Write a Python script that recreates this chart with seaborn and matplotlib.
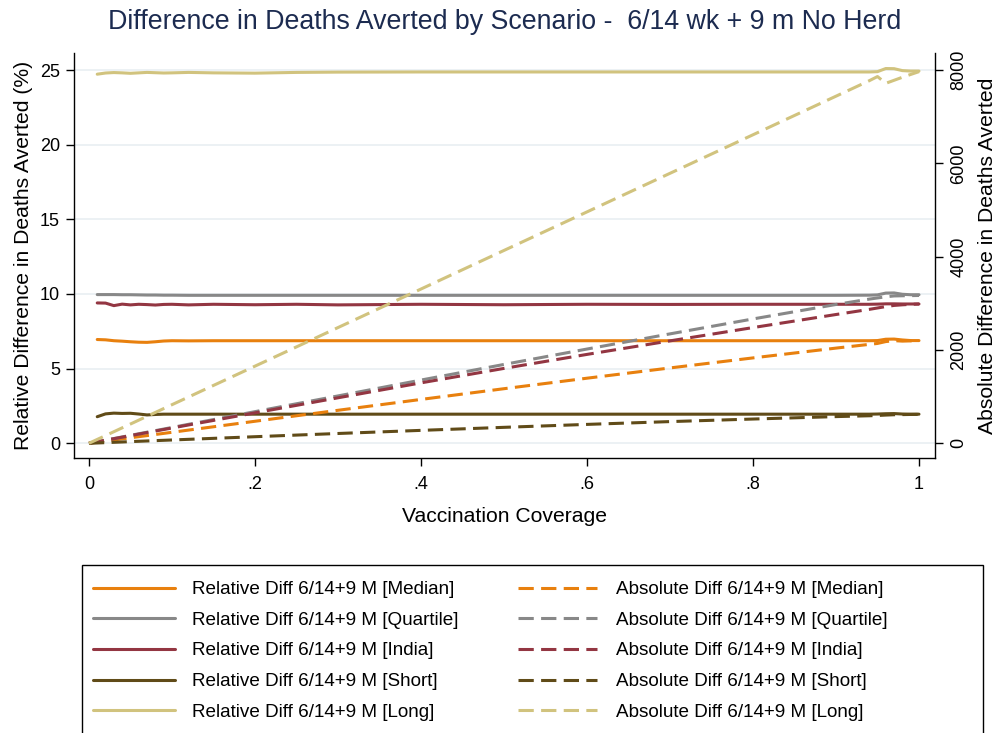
import numpy as np
import pandas as pd
import matplotlib
matplotlib.use("Agg")
import matplotlib.pyplot as plt
from matplotlib.patches import Rectangle
import seaborn as sns

nan = np.nan

# ---- data ----
coverage = [0.00, 0.01, 0.02, 0.03, 0.04, 0.05, 0.06, 0.07, 0.08, 0.09, 0.10, 0.12,
            0.15, 0.20, 0.25, 0.30, 0.40, 0.50, 0.60, 0.70, 0.80, 0.90, 0.94, 0.95,
            0.96, 0.97, 0.98, 0.99, 1.00]

rel_median = [nan, 6.95, 6.93, 6.87, 6.84, 6.80, 6.77, 6.76, 6.80, 6.85, 6.87, 6.86,
              6.87, 6.87, 6.87, 6.87, 6.87, 6.87, 6.87, 6.87, 6.87, 6.87, 6.87, 6.88,
              6.97, 6.98, 6.92, 6.88, 6.88]
rel_quartile = [nan, 9.96, 9.96, 9.96, 9.95, 9.95, 9.94, 9.93, 9.93, 9.92, 9.92, 9.91,
                9.91, 9.91, 9.91, 9.91, 9.91, 9.91, 9.91, 9.91, 9.91, 9.91, 9.92, 9.94,
                10.06, 10.07, 9.98, 9.95, 9.95]
rel_india = [nan, 9.40, 9.39, 9.22, 9.32, 9.27, 9.31, 9.29, 9.26, 9.30, 9.31, 9.27,
             9.31, 9.28, 9.31, 9.27, 9.31, 9.28, 9.31, 9.30, 9.31, 9.31, 9.31, 9.32,
             9.34, 9.34, 9.33, 9.33, 9.33]
rel_short = [nan, 1.78, 1.97, 2.02, 2.00, 2.01, 1.96, 1.90, 1.93, 1.95, 1.95, 1.95,
             1.95, 1.95, 1.95, 1.95, 1.95, 1.95, 1.95, 1.95, 1.95, 1.95, 1.95, 1.96,
             1.98, 1.99, 1.96, 1.95, 1.95]
rel_long = [nan, 24.72, 24.80, 24.83, 24.81, 24.78, 24.81, 24.84, 24.82, 24.80, 24.81, 24.84,
            24.81, 24.79, 24.84, 24.86, 24.87, 24.87, 24.87, 24.87, 24.87, 24.87, 24.87, 24.89,
            25.10, 25.09, 24.96, 24.93, 24.93]

abs_median = [0, 24, 47, 71, 95, 118, 142, 165, 189, 212, 236, 283, 354, 472, 590, 707,
              940, 1170, 1395, 1615, 1830, 2040, 2120, 2140, 2180, 2200, 2190, 2195, 2200]
abs_quartile = [0, 34, 68, 102, 136, 170, 204, 238, 271, 305, 339, 407, 508, 678, 847, 1015,
                1355, 1690, 2020, 2345, 2665, 2975, 3090, 3115, 3140, 3158, 3162, 3165, 3168]
abs_india = [0, 33, 66, 98, 131, 164, 197, 229, 262, 295, 327, 393, 490, 652, 813, 975,
             1295, 1605, 1905, 2195, 2480, 2760, 2870, 2900, 2930, 2955, 2968, 2978, 2985]
abs_short = [0, 7, 14, 21, 28, 36, 43, 50, 57, 64, 71, 85, 106, 141, 176, 210,
             277, 342, 405, 465, 520, 572, 590, 596, 605, 612, 615, 618, 620]
abs_long = [0, 83, 165, 248, 331, 413, 496, 579, 661, 744, 827, 992, 1240, 1653, 2066, 2480,
            3306, 4133, 4959, 5786, 6612, 7439, 7770, 7860, 7715, 7780, 7845, 7905, 7965]

scenarios = ["Median", "Quartile", "India", "Short", "Long"]
xtick_vals = [0, 0.2, 0.4, 0.6, 0.8, 1.0]
xtick_labels = ["0", ".2", ".4", ".6", ".8", "1"]
ytick_left = [0, 5, 10, 15, 20, 25]
ytick_right = [0, 2000, 4000, 6000, 8000]

title = "Difference in Deaths Averted by Scenario -  6/14 wk + 9 m No Herd"

# ---- style ----
colors = ["#E8800E", "#888888", "#933642", "#604B18", "#D1C37E"]
sns.set_theme(style="white")
plt.rcParams["font.family"] = ["Liberation Sans", "DejaVu Sans"]

rel = dict(zip(scenarios, [rel_median, rel_quartile, rel_india, rel_short, rel_long]))
absd = dict(zip(scenarios, [abs_median, abs_quartile, abs_india, abs_short, abs_long]))
df = pd.DataFrame({"coverage": coverage})
for s in scenarios:
    df["rel_" + s] = rel[s]
    df["abs_" + s] = absd[s]

W, H = 998, 733
fig = plt.figure(figsize=(W / 100, H / 100), dpi=100)
fig.patch.set_facecolor("white")
ax = fig.add_axes([74 / W, 1 - 458 / H, (935 - 74) / W, (458 - 53) / H])
ax2 = ax.twinx()

LW = 2.2
dash = (0, (5.0, 2.4))
for s, c in zip(scenarios, colors):
    sns.lineplot(data=df, x="coverage", y="rel_" + s, ax=ax, color=c, lw=LW,
                 legend=False)
for s, c in zip(scenarios, colors):
    sns.lineplot(data=df, x="coverage", y="abs_" + s, ax=ax2, color=c, lw=LW,
                 linestyle=dash, legend=False)

ax.set_xlim(-0.018, 1.0193)
ax.set_ylim(-0.985, 26.14)
ax2.set_ylim(-0.985 * 320, 26.14 * 320)

ax.set_yticks(ytick_left)
ax.set_yticklabels([str(v) for v in ytick_left])
ax.set_xticks(xtick_vals)
ax.set_xticklabels(xtick_labels)
ax2.set_yticks(ytick_right)
ax2.set_yticklabels([str(v) for v in ytick_right])

ax.yaxis.grid(True, color="#EAF0F3", lw=1.3)
ax.xaxis.grid(False)
ax.set_axisbelow(True)

for a in (ax, ax2):
    a.spines["top"].set_visible(False)
    for sp in ("left", "bottom", "right"):
        a.spines[sp].set_color("black")
        a.spines[sp].set_linewidth(1.0)
ax2.spines["left"].set_visible(False)
ax2.spines["bottom"].set_visible(False)
ax.spines["right"].set_visible(False)

TS = 13.0
ax.tick_params(axis="x", bottom=True, direction="out", length=6, width=1,
               labelsize=TS, pad=7, colors="black")
ax.tick_params(axis="y", left=True, direction="out", length=6, width=1,
               labelsize=TS, pad=4, colors="black")
ax2.tick_params(axis="y", right=True, direction="out", length=6, width=1,
                labelsize=TS, pad=5, colors="black")
for lbl in ax2.get_yticklabels():
    lbl.set_rotation(90)
    lbl.set_va("center")

AS = 15.2
ax.set_xlabel("Vaccination Coverage", fontsize=AS, labelpad=10, color="black")
ax.set_ylabel("Relative Difference in Deaths Averted (%)", fontsize=AS, labelpad=5,
              color="black")
ax2.set_ylabel("Absolute Difference in Deaths Averted", fontsize=AS, labelpad=8,
               color="black", rotation=90)

fig.text(505 / W, 1 - 22 / H, title, ha="center", va="center", fontsize=19.3,
         color="#1C2B50")

# ---- legend ----
rel_lines = ax.get_lines()[:5]
abs_lines = ax2.get_lines()[:5]
LS = 13.6
leg_kw = dict(loc="upper left", frameon=False, fontsize=LS, labelspacing=0.71,
              borderpad=0, borderaxespad=0, labelcolor="black")
fig.legend(rel_lines, ["Relative Diff 6/14+9 M [%s]" % s for s in scenarios],
           bbox_to_anchor=(93 / W, 1 - 581 / H), handlelength=4.35,
           handletextpad=0.9, **leg_kw)
fig.legend(abs_lines, ["Absolute Diff 6/14+9 M [%s]" % s for s in scenarios],
           bbox_to_anchor=(518 / W, 1 - 581 / H), handlelength=4.2,
           handletextpad=1.0, **leg_kw)
fig.patches.append(Rectangle((82 / W, 1 - 745 / H), (983 - 82) / W, (745 - 565) / H,
                             transform=fig.transFigure, fill=False, edgecolor="black",
                             lw=1.0, figure=fig))

fig.savefig("out.png", dpi=100, facecolor="white")
